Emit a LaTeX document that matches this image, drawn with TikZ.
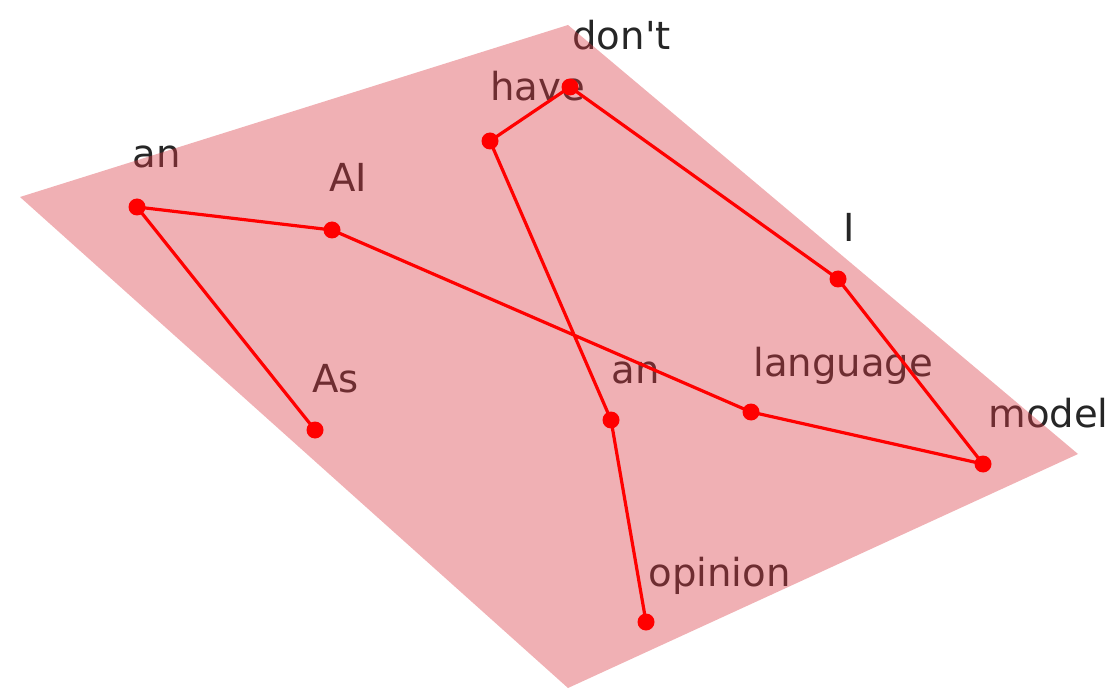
\documentclass[tikz,border=0pt]{standalone}
\usepackage{fontspec}
\setmainfont{DejaVu Sans}

\definecolor{planecol}{RGB}{218,57,67}

\tikzset{
  tok/.style={circle, fill=red, inner sep=0pt, minimum size=8.5pt},
  word/.style={anchor=base west, text=black!85, inner sep=0pt, font=\fontsize{19.3}{23}\selectfont},
  link/.style={red, line width=1.6pt},
}

\begin{document}
\begin{tikzpicture}[x=0.5pt, y=-0.5pt]
        \useasboundingbox (0,0) rectangle (1107,689);

        % words
        \node[word] (tAs) at (312,392) {As};
        \node[word] (tanA) at (132,168) {an};
        \node[word] (tAI) at (329,192) {AI};
        \node[word] (tlang) at (753,376) {language};
        \node[word] (tmodel) at (988,427) {model};
        \node[word] (tI) at (843,242) {I};
        \node[word] (tdont) at (572,50) {don\textquotesingle t};
        \node[word] (thave) at (490,101) {have};
        \node[word] (tanB) at (611,383) {an};
        \node[word] (topinion) at (648,586) {opinion};

        % plane
        \fill[planecol, opacity=0.4] (20,197) -- (568,25) -- (1078,454) -- (568,688) -- cycle;

        % tokens
        \node[tok] (As) at (315,430) {};
        \node[tok] (anA) at (137,207) {};
        \node[tok] (AI) at (332,230) {};
        \node[tok] (lang) at (751,412) {};
        \node[tok] (model) at (983,464) {};
        \node[tok] (I) at (838,279) {};
        \node[tok] (dont) at (570,87) {};
        \node[tok] (have) at (490,141) {};
        \node[tok] (anB) at (611,420) {};
        \node[tok] (opinion) at (646,622) {};

        \draw[link] (As.center) -- (anA.center) -- (AI.center) -- (lang.center) -- (model.center)
          -- (I.center) -- (dont.center) -- (have.center) -- (anB.center) -- (opinion.center);
\end{tikzpicture}
\end{document}
